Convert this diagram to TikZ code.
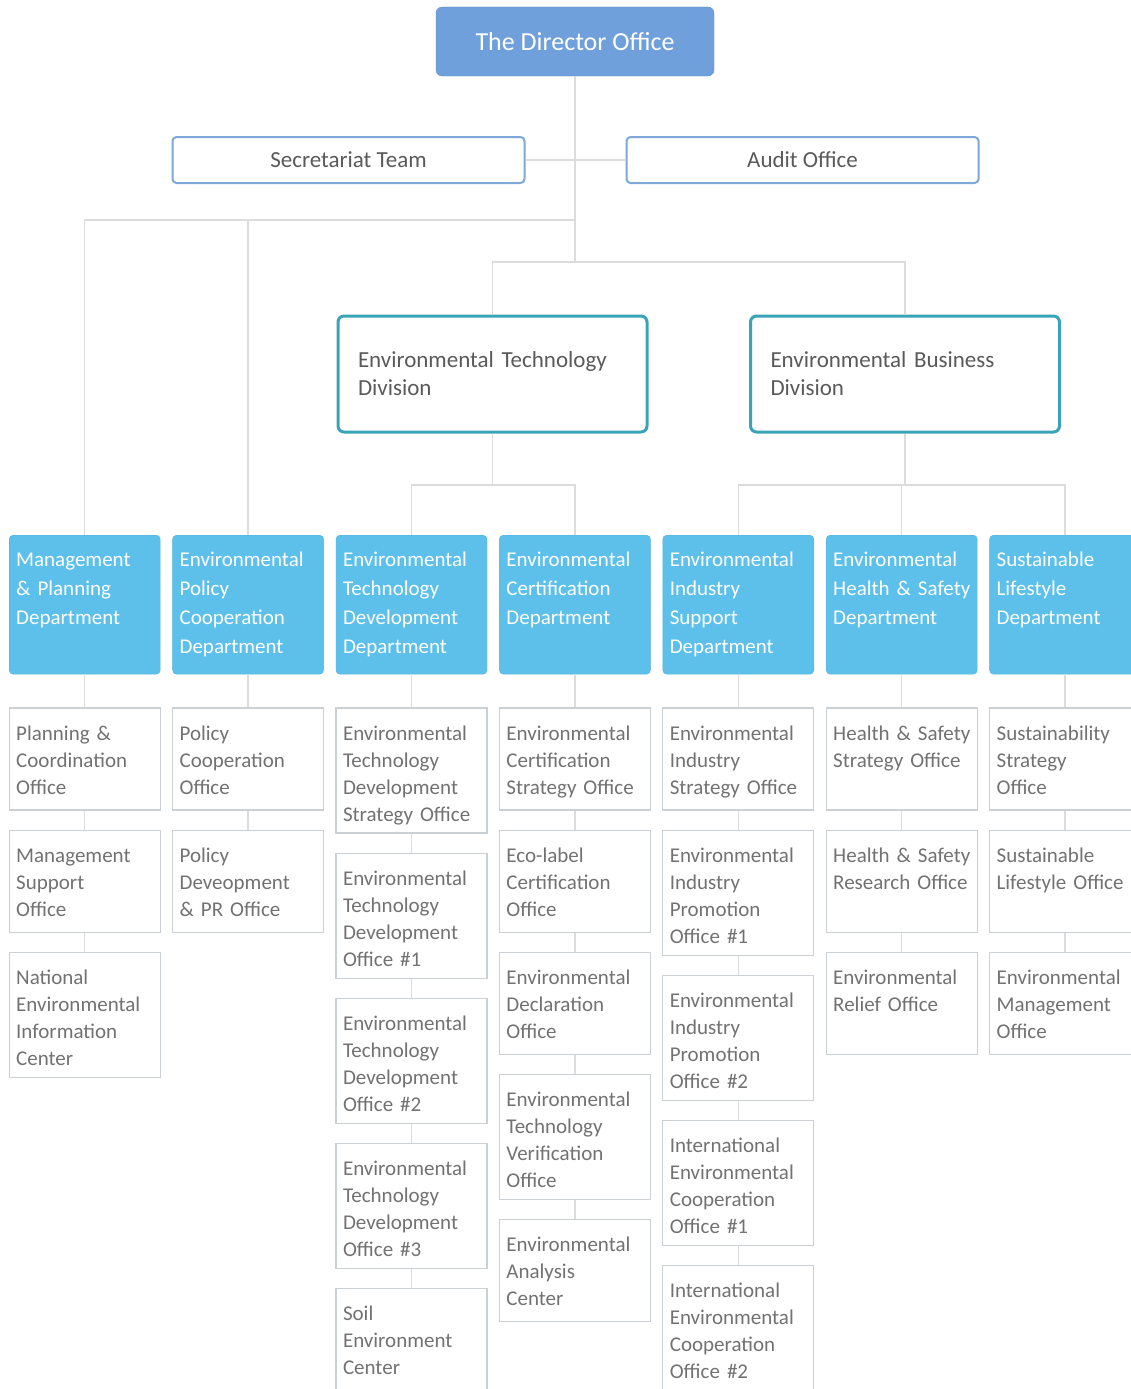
\documentclass[tikz,border=0pt]{standalone}
\usepackage{fontspec}
\setmainfont{Carlito}
\usetikzlibrary{positioning}

\definecolor{dirblue}{HTML}{6FA0DB}
\definecolor{teamblue}{HTML}{7DA8D8}
\definecolor{divteal}{HTML}{3AA4B7}
\definecolor{deptblue}{HTML}{5CC0EA}
\definecolor{officegray}{HTML}{CBD0D4}
\definecolor{linkgray}{HTML}{DCDCDC}
\definecolor{textgray}{HTML}{5A5A5A}
\definecolor{officetext}{HTML}{727272}

\begin{document}
\begin{tikzpicture}[x=1pt, y=-1pt,
    director/.style={rectangle, rounded corners=6pt, fill=dirblue, draw=dirblue!90!black, minimum width=278pt, minimum height=69pt, text=white, font=\fontsize{26}{30}\selectfont},
    team/.style={rectangle, rounded corners=4pt, fill=white, draw=teamblue, line width=2pt, minimum width=352pt, minimum height=46pt, text=textgray, font=\fontsize{23}{28}\selectfont},
    division/.style={rectangle, rounded corners=6pt, fill=white, draw=divteal, line width=3pt, minimum width=309pt, minimum height=116pt, text width=269pt, inner xsep=20pt, align=left, text=textgray, font=\fontsize{23}{28}\selectfont},
    dept/.style={rectangle, rounded corners=4pt, fill=deptblue, draw=deptblue!92!black, text width=137pt, inner xsep=7pt, inner ysep=8pt, text height=23pt, text depth=100pt, align=left, text=white, font=\fontsize{21}{29}\selectfont},
    office/.style={rectangle, fill=white, draw=officegray, line width=1.2pt, text width=137pt, inner xsep=7pt, inner ysep=8pt, text height=24pt, text depth=#1, align=left, text=officetext, font=\fontsize{21}{27}\selectfont},
    office/.default=62pt,
    longoffice/.style={office=85pt},
    link/.style={draw=linkgray, line width=1.5pt}
  ]
  \useasboundingbox (0,0) rectangle (1131,1389);

  % top of the chart
  \node[director] (director) at (575,41.5) {The Director Office};
  \node[team] (secretariat) at (348.5,160) {Secretariat Team};
  \node[team] (audit) at (802.5,160) {Audit Office};
  \node[division] (techdiv) at (492.5,374) {Environmental Technology\\Division};
  \node[division] (busdiv) at (905,374) {Environmental Business\\Division};

  % departments
  \node[dept, anchor=north west] (mgmt) at (9,535) {Management\\\& Planning\\Department};
  \node[dept] (policy) [right=12pt of mgmt] {Environmental\\Policy\\Cooperation\\Department};
  \node[dept] (etdev) [right=12pt of policy] {Environmental\\Technology\\Development\\Department};
  \node[dept] (cert) [right=12pt of etdev] {Environmental\\Certification\\Department};
  \node[dept] (industry) [right=12pt of cert] {Environmental\\Industry\\Support\\Department};
  \node[dept] (health) [right=12pt of industry] {Environmental\\Health~\&~Safety\\Department};
  \node[dept] (lifestyle) [right=12pt of health] {Sustainable\\Lifestyle\\Department};

  % offices
  \node[office] (m1) [below=33pt of mgmt] {Planning \&\\Coordination\\Office};
  \node[office] (m2) [below=19pt of m1] {Management\\Support\\Office};
  \node[longoffice] (m3) [below=19pt of m2] {National\\Environmental\\Information\\Center};

  \node[office] (p1) [below=33pt of policy] {Policy\\Cooperation\\Office};
  \node[office] (p2) [below=19pt of p1] {Policy\\Deveopment\\\& PR Office};

  \node[longoffice] (t1) [below=33pt of etdev] {Environmental\\Technology\\Development\\Strategy Office};
  \node[longoffice] (t2) [below=19pt of t1] {Environmental\\Technology\\Development\\Office \#1};
  \node[longoffice] (t3) [below=19pt of t2] {Environmental\\Technology\\Development\\Office \#2};
  \node[longoffice] (t4) [below=19pt of t3] {Environmental\\Technology\\Development\\Office \#3};
  \node[office] (t5) [below=19pt of t4] {Soil\\Environment\\Center};

  \node[office] (c1) [below=33pt of cert] {Environmental\\Certification\\Strategy Office};
  \node[office] (c2) [below=19pt of c1] {Eco-label\\Certification\\Office};
  \node[office] (c3) [below=19pt of c2] {Environmental\\Declaration\\Office};
  \node[longoffice] (c4) [below=19pt of c3] {Environmental\\Technology\\Verification\\Office};
  \node[office] (c5) [below=19pt of c4] {Environmental\\Analysis\\Center};

  \node[office] (i1) [below=33pt of industry] {Environmental\\Industry\\Strategy Office};
  \node[longoffice] (i2) [below=19pt of i1] {Environmental\\Industry\\Promotion\\Office \#1};
  \node[longoffice] (i3) [below=19pt of i2] {Environmental\\Industry\\Promotion\\Office \#2};
  \node[longoffice] (i4) [below=19pt of i3] {International\\Environmental\\Cooperation\\Office \#1};
  \node[longoffice] (i5) [below=19pt of i4] {International\\Environmental\\Cooperation\\Office \#2};

  \node[office] (h1) [below=33pt of health] {Health~\&~Safety\\Strategy~Office};
  \node[office] (h2) [below=19pt of h1] {Health~\&~Safety\\Research~Office};
  \node[office] (h3) [below=19pt of h2] {Environmental\\Relief Office};

  \node[office] (s1) [below=33pt of lifestyle] {Sustainability\\Strategy\\Office};
  \node[office] (s2) [below=19pt of s1] {Sustainable\\Lifestyle~Office};
  \node[office] (s3) [below=19pt of s2] {Environmental\\Management\\Office};

  % connectors
  \coordinate (topbar) at (0,220);
  \coordinate (divbar) at (0,262);
  \coordinate (lowbar) at (0,485);
  \begin{scope}[link]
  \draw (director.south) -- (director.south |- divbar);
  \draw (secretariat.east) -- (audit.west);
  \draw (mgmt.north) |- (director.south |- topbar);
  \draw (policy.north) -- (policy.north |- topbar);
  \draw (techdiv.north) |- (busdiv.north |- divbar) -- (busdiv.north);
  \draw (techdiv.south) -- (techdiv.south |- lowbar);
  \draw (etdev.north) |- (cert.north |- lowbar) -- (cert.north);
  \draw (busdiv.south) -- (busdiv.south |- lowbar);
  \draw (industry.north) |- (lifestyle.north |- lowbar) -- (lifestyle.north);
  \draw (health.north) -- (health.north |- lowbar);
  \draw (mgmt) -- (m1) (m1) -- (m2) (m2) -- (m3);
  \draw (policy) -- (p1) (p1) -- (p2);
  \draw (etdev) -- (t1) (t1) -- (t2) (t2) -- (t3) (t3) -- (t4) (t4) -- (t5);
  \draw (cert) -- (c1) (c1) -- (c2) (c2) -- (c3) (c3) -- (c4) (c4) -- (c5);
  \draw (industry) -- (i1) (i1) -- (i2) (i2) -- (i3) (i3) -- (i4) (i4) -- (i5);
  \draw (health) -- (h1) (h1) -- (h2) (h2) -- (h3);
  \draw (lifestyle) -- (s1) (s1) -- (s2) (s2) -- (s3);
  \end{scope}
\end{tikzpicture}
\end{document}
